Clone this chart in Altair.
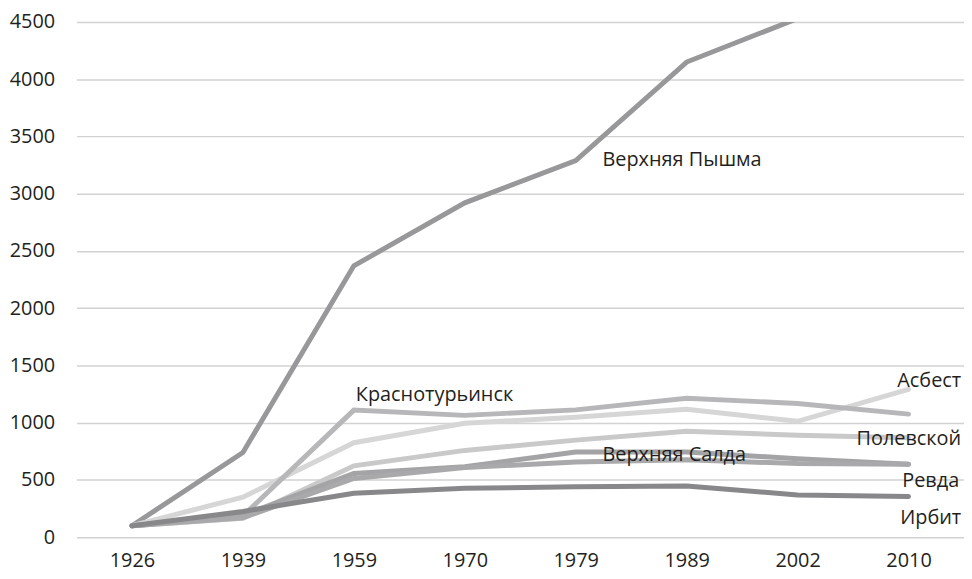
import altair as alt
import pandas as pd

years = ["1926", "1939", "1959", "1970", "1979", "1989", "2002", "2010"]

pyshma = [100, 740, 2370, 2920, 3290, 4150, 4530, 4700]
krasnoturinsk = [100, 185, 1110, 1064, 1112, 1214, 1168, 1075]
asbest = [100, 350, 825, 995, 1047, 1118, 1012, 1292]
polevskoy = [100, 165, 623, 758, 848, 925, 891, 868]
salda = [100, 190, 556, 615, 744, 744, 686, 637]
revda = [100, 170, 513, 608, 657, 677, 643, 637]
irbit = [100, 225, 383, 427, 441, 447, 369, 355]

series_names = ["Верхняя Пышма", "Асбест", "Полевской", "Краснотурьинск",
                "Верхняя Салда", "Ревда", "Ирбит"]
series_values = [pyshma, asbest, polevskoy, krasnoturinsk, salda, revda, irbit]
series_colors = ["#98989b", "#d6d6d7", "#c9c9ca", "#b7b7b9",
                 "#a4a4a6", "#a9a9ab", "#88888a"]

label_text = ["Верхняя Пышма", "Краснотурьинск", "Верхняя Салда",
              "Асбест", "Полевской", "Ревда", "Ирбит"]
label_year = ["1979", "1959", "1979", "2010", "2010", "2010", "2010"]
label_value = [3290, 1245, 718, 1367, 856, 493, 164]
label_align = ["left", "left", "left", "right", "right", "right", "right"]
label_dx = [27, 2, 27, 53, 53, 51, 53]

rows = []
for name, vals in zip(series_names, series_values):
    for i, (y, v) in enumerate(zip(years, vals)):
        rows.append({"city": name, "year": y, "value": v, "order": i})
df = pd.DataFrame(rows)

FONT = "Open Sans"
FS = 20

x_enc = alt.X("year:O", sort=years,
              scale=alt.Scale(type="point", padding=0.5),
              axis=alt.Axis(title=None, labelAngle=0, domain=False, ticks=False,
                            grid=False, labelFontSize=FS, labelColor="#231f20",
                            labelFont=FONT, labelPadding=14))
y_enc = alt.Y("value:Q", scale=alt.Scale(domain=[0, 4500], nice=False),
              axis=alt.Axis(title=None, values=list(range(0, 4501, 500)),
                            format="d",
                            domain=False, ticks=False, grid=True,
                            gridColor="#d2d2d2", gridWidth=1.5,
                            labelFontSize=FS, labelColor="#231f20",
                            labelFont=FONT, labelPadding=22))

lines = alt.Chart(df).mark_line(strokeWidth=5, clip=True, strokeCap="round",
                                strokeJoin="miter").encode(
    x=x_enc,
    y=y_enc,
    color=alt.Color("city:N", scale=alt.Scale(domain=series_names, range=series_colors),
                    legend=None),
    order="order:Q",
)

label_layers = []
for t, yr, v, al, dx in zip(label_text, label_year, label_value, label_align, label_dx):
    d = pd.DataFrame({"text": [t], "year": [yr], "value": [v]})
    label_layers.append(
        alt.Chart(d).mark_text(align=al, baseline="middle", dx=dx, fontSize=FS,
                               font=FONT, color="#231f20").encode(
            x=x_enc, y=y_enc, text="text:N")
    )

chart = alt.layer(lines, *label_layers).properties(
    width=894, height=519,
    autosize=alt.AutoSizeParams(type="none"),
    padding={"left": 69, "top": 12, "right": 0, "bottom": 34},
).configure_view(stroke=None)

chart.save("out.html", embed_options={"renderer": "svg", "actions": False})
